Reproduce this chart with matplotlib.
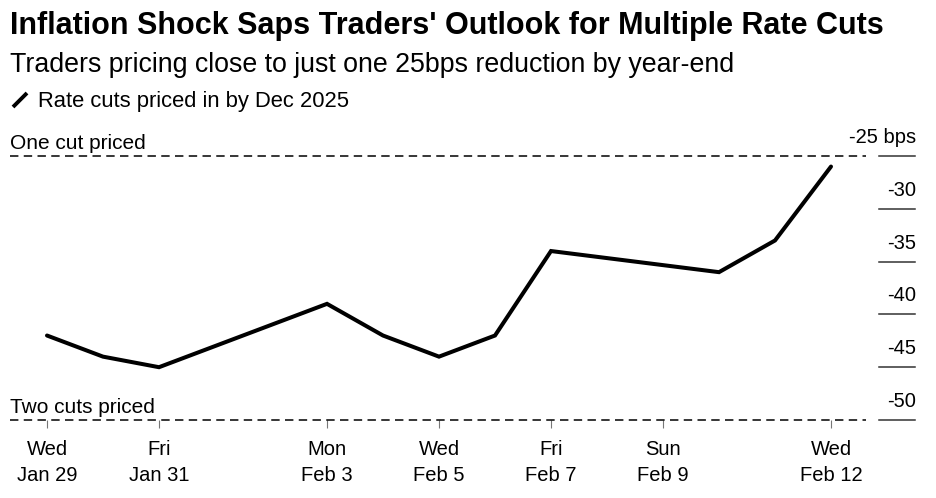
import datetime as dt

import matplotlib
matplotlib.use("Agg")
import matplotlib.pyplot as plt
import matplotlib.dates as mdates
import matplotlib.transforms as mtransforms
from matplotlib import font_manager
from matplotlib.lines import Line2D

# data
dates = ["2025-01-29", "2025-01-30", "2025-01-31", "2025-02-03", "2025-02-04",
         "2025-02-05", "2025-02-06", "2025-02-07", "2025-02-10", "2025-02-11",
         "2025-02-12"]
cuts_bps = [-42, -44, -45, -39, -42, -44, -42, -34, -36, -33, -26]

tick_dates = ["2025-01-29", "2025-01-31", "2025-02-03", "2025-02-05",
              "2025-02-07", "2025-02-09", "2025-02-12"]
tick_labels = ["Wed\nJan 29", "Fri\nJan 31", "Mon\nFeb 3", "Wed\nFeb 5",
               "Fri\nFeb 7", "Sun\nFeb 9", "Wed\nFeb 12"]

y_ticks = [-25, -30, -35, -40, -45, -50]
y_labels = ["-25 bps", "-30", "-35", "-40", "-45", "-50"]
ref_levels = [-25, -50]
ref_labels = ["One cut priced", "Two cuts priced"]

title = "Inflation Shock Saps Traders' Outlook for Multiple Rate Cuts"
subtitle = "Traders pricing close to just one 25bps reduction by year-end"
legend_label = "Rate cuts priced in by Dec 2025"


def pick_font():
    for name in ["Liberation Sans Narrow", "Liberation Sans"]:
        try:
            font_manager.findfont(name, fallback_to_default=False)
            return name
        except ValueError:
            continue
    return "DejaVu Sans"


def fit_width(fig, text, width_px):
    """Scale a text's font size so its drawn width matches width_px."""
    renderer = fig.canvas.get_renderer()
    bb = text.get_window_extent(renderer)
    text.set_fontsize(text.get_fontsize() * width_px / bb.width)


FONT = pick_font()
plt.rcParams["font.family"] = [FONT, "DejaVu Sans"]

W, H = 937, 498
fig = plt.figure(figsize=(W / 100, H / 100), dpi=100)
fig.patch.set_facecolor("white")

# axes spans the -25 .. -50 band exactly
ax = fig.add_axes([10 / W, (H - 420) / H, (866 - 10) / W, (420 - 156) / H])

x = [mdates.date2num(dt.date.fromisoformat(d)) for d in dates]
x0 = mdates.date2num(dt.date(2025, 1, 29))
ax.plot(x, cuts_bps, color="black", lw=2.9, solid_capstyle="round",
        solid_joinstyle="miter", zorder=3)

ax.set_xlim(x0 - 37 / 56, x0 + (866 - 47) / 56)
ax.set_ylim(-50, -25)

for s in ax.spines.values():
    s.set_visible(False)
ax.set_yticks([])

ax.set_xticks([mdates.date2num(dt.date.fromisoformat(d)) for d in tick_dates])
ax.set_xticklabels(tick_labels, fontsize=14.5, linespacing=1.5)
ax.tick_params(axis="x", length=5.8, width=0.8, color="#777777", pad=8.5,
               labelcolor="black")

# dashed reference lines with their labels
for lvl, lab in zip(ref_levels, ref_labels):
    ax.axhline(lvl, color="black", lw=1.1, ls=(0, (5.5, 3.5)), clip_on=False,
               zorder=2)
    ax.text(0, lvl, lab, transform=mtransforms.offset_copy(
        ax.get_yaxis_transform(), fig=fig, y=7, units="dots"),
        ha="left", va="baseline", fontsize=15, color="black")

# right-hand value scale: short rules with labels sitting above them
right = mtransforms.blended_transform_factory(fig.transFigure, ax.transData)
for val, lab in zip(y_ticks, y_labels):
    ax.add_line(Line2D([879 / W, 915 / W], [val, val], transform=right,
                       color="#333333", lw=1.1, clip_on=False))
    ax.text(916 / W, val, lab, transform=mtransforms.offset_copy(
        right, fig=fig, y=13, units="dots"),
        ha="right", va="baseline", fontsize=14.5, color="black")

# header
t_title = fig.text(10 / W, 1 - 34 / H, title, fontsize=20, fontweight="bold",
                   ha="left", va="baseline")
t_sub = fig.text(10 / W, 1 - 71.5 / H, subtitle, fontsize=16,
                 ha="left", va="baseline")
t_leg = fig.text(38 / W, 1 - 107 / H, legend_label, fontsize=12.5,
                 ha="left", va="baseline")
fig.add_artist(Line2D([13 / W, 27 / W], [1 - 107 / H, 1 - 93 / H],
                      transform=fig.transFigure, color="black", lw=2.8,
                      solid_capstyle="butt"))

fit_width(fig, t_title, 874)
fit_width(fig, t_sub, 725)
fit_width(fig, t_leg, 312)

fig.savefig("out.png", dpi=100, facecolor="white")
